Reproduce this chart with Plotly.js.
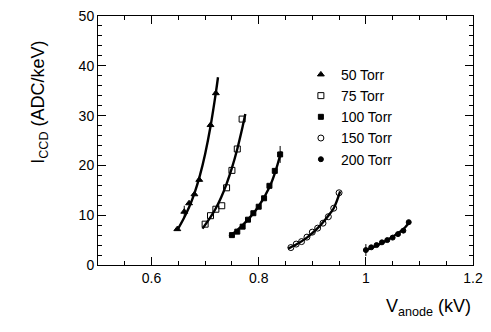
<!DOCTYPE html>
<html>
<head>
<meta charset="utf-8">
<script src="https://cdn.plot.ly/plotly-3.0.1.min.js"></script>
<style>
  html, body { margin: 0; padding: 0; background: #fff; }
  #chart { width: 491px; height: 332px; }
</style>
</head>
<body>
<div id="chart"></div>
<script>
// ---- measured points (V_anode in kV, I_CCD in ADC/keV) ----
const labels = ["50 Torr", "75 Torr", "100 Torr", "150 Torr", "200 Torr"];

const v50  = [0.648, 0.661, 0.670, 0.680, 0.689, 0.710, 0.720];
const i50  = [7.2, 10.7, 12.4, 14.2, 17.1, 28.1, 34.5];
const e50  = [0, 1.2, 0, 0, 0, 0, 0];

const v75  = [0.700, 0.710, 0.720, 0.731, 0.740, 0.750, 0.760, 0.769];
const i75  = [8.2, 9.9, 11.2, 11.9, 15.5, 19.0, 23.3, 29.3];

const v100 = [0.75, 0.76, 0.77, 0.78, 0.79, 0.80, 0.81, 0.82, 0.83, 0.84];
const i100 = [6.0, 6.7, 7.7, 9.1, 10.4, 11.7, 13.4, 15.9, 18.9, 22.2];
const e100 = [0, 0, 0, 0, 0, 0, 0, 0, 0, 1.7];

const v150 = [0.86, 0.87, 0.88, 0.89, 0.90, 0.91, 0.92, 0.93, 0.94, 0.95];
const i150 = [3.5, 4.2, 4.7, 5.6, 6.6, 7.4, 8.4, 9.7, 11.4, 14.5];

const v200 = [1.00, 1.01, 1.02, 1.03, 1.04, 1.05, 1.06, 1.07, 1.08];
const i200 = [3.0, 3.55, 4.0, 4.55, 5.0, 5.5, 6.2, 6.9, 8.6];
const e200 = [1.2, 0, 0, 0, 0, 0, 0, 0, 0];

// ---- fitted curves ----
const fitV50  = [0.648, 0.66, 0.67, 0.68, 0.69, 0.70, 0.71, 0.72, 0.724];
const fitI50  = [7.0, 9.35, 11.6, 14.4, 17.9, 22.3, 27.8, 34.6, 37.7];
const fitV75  = [0.695, 0.71, 0.72, 0.73, 0.74, 0.75, 0.76, 0.77, 0.775];
const fitI75  = [7.3, 9.6, 11.4, 13.6, 16.3, 19.5, 23.3, 27.8, 30.3];
const fitV100 = [0.745, 0.76, 0.78, 0.80, 0.82, 0.83, 0.842];
const fitI100 = [5.8, 7.0, 9.1, 11.8, 15.6, 18.4, 22.8];
const fitV150 = [0.855, 0.87, 0.89, 0.91, 0.93, 0.94, 0.952];
const fitI150 = [3.3, 4.1, 5.5, 7.4, 9.9, 11.4, 14.8];
const fitV200 = [0.998, 1.02, 1.04, 1.06, 1.07, 1.082];
const fitI200 = [2.9, 3.9, 5.0, 6.4, 7.2, 8.7];

const black = "#000";

function pts(x, y, name, symbol, size, err) {
  const t = {
    x: x, y: y, name: name, type: "scatter", mode: "markers",
    marker: { symbol: symbol, size: size, color: black, line: { color: black, width: 1 } },
    cliponaxis: false
  };
  if (err) t.error_y = { type: "data", array: err, visible: true, color: black, thickness: 1, width: 0 };
  return t;
}
function fit(x, y) {
  return {
    x: x, y: y, type: "scatter", mode: "lines", showlegend: false, hoverinfo: "skip",
    line: { color: black, width: 2.4, shape: "spline" }
  };
}

const data = [
  fit(fitV50, fitI50), fit(fitV75, fitI75), fit(fitV100, fitI100),
  fit(fitV150, fitI150), fit(fitV200, fitI200),
  pts(v50, i50, labels[0], "triangle-up", 6, e50),
  pts(v75, i75, labels[1], "square-open", 6),
  pts(v100, i100, labels[2], "square", 5, e100),
  pts(v150, i150, labels[3], "circle-open", 6),
  pts(v200, i200, labels[4], "circle", 5, e200)
];

const axisCommon = {
  showgrid: false, zeroline: false, showline: true, linecolor: black, linewidth: 1,
  mirror: "allticks", ticks: "inside", ticklen: 8, tickwidth: 1, tickcolor: black,
  tickfont: { family: "Liberation Sans, Arial, sans-serif", size: 14, color: black }
};

const layout = {
  width: 491, height: 332,
  margin: { l: 98, r: 18, t: 16, b: 67 },
  paper_bgcolor: "#fff", plot_bgcolor: "#fff",
  font: { family: "Liberation Sans, Arial, sans-serif", color: black },
  showlegend: true,
  legend: {
    x: 0.541, y: 0.828, xanchor: "left", yanchor: "top",
    bgcolor: "rgba(0,0,0,0)", borderwidth: 0,
    font: { size: 14, color: black }, traceorder: "normal"
  },
  xaxis: Object.assign({}, axisCommon, {
    range: [0.5, 1.2], dtick: 0.2, tick0: 0.6,
    minor: { dtick: 0.05, ticks: "inside", ticklen: 4, tickcolor: black, showgrid: false }
  }),
  yaxis: Object.assign({}, axisCommon, {
    range: [0, 50], dtick: 10,
    minor: { dtick: 2, ticks: "inside", ticklen: 4, tickcolor: black, showgrid: false }
  }),
  annotations: [
    {
      text: "V<sub>anode</sub> (kV)", xref: "paper", yref: "paper",
      x: 1.0, y: -0.17, xanchor: "right", yanchor: "middle", showarrow: false,
      font: { size: 18, color: black }
    },
    {
      text: "I<sub>CCD</sub> (ADC/keV)", xref: "paper", yref: "paper", textangle: -90,
      x: -0.155, y: 0.655, xanchor: "center", yanchor: "middle", showarrow: false,
      font: { size: 18, color: black }
    }
  ]
};

Plotly.newPlot("chart", data, layout, { displayModeBar: false, staticPlot: true });
</script>
</body>
</html>
